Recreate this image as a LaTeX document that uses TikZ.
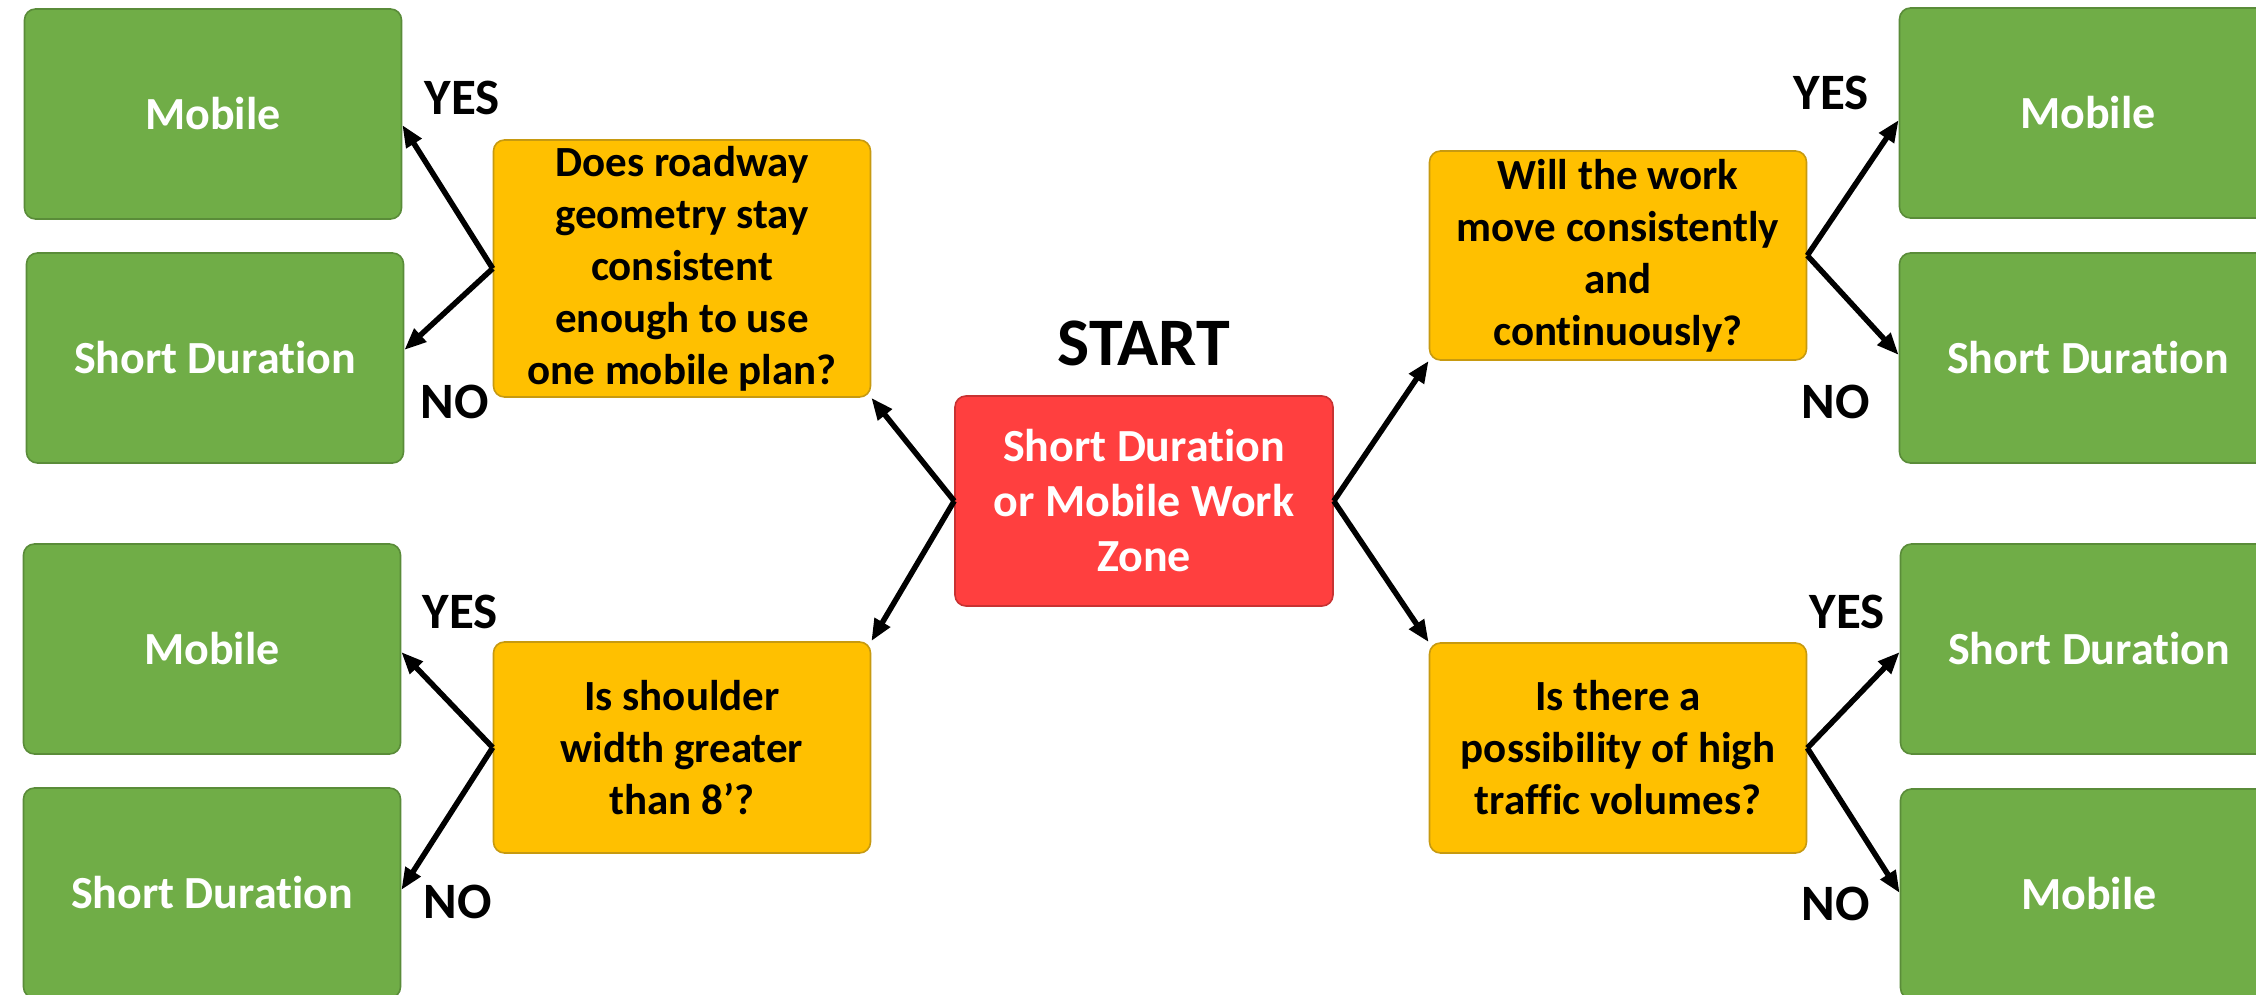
\documentclass[tikz,border=0pt]{standalone}
\usepackage{fontspec}
\setmainfont{Carlito}[RawFeature=-liga]
\usetikzlibrary{arrows.meta}
\definecolor{gfill}{HTML}{70AD47}
\definecolor{gline}{HTML}{5A8C39}
\definecolor{yfill}{HTML}{FFC000}
\definecolor{yline}{HTML}{C79A10}
\definecolor{rfill}{HTML}{FF3F3F}
\definecolor{rline}{HTML}{C83232}
\tikzset{
  box/.style={rectangle, rounded corners=11pt, line width=1.6pt, minimum width=377pt, minimum height=210pt, inner sep=0pt, align=center, font=\bfseries\fontsize{46}{55}\selectfont},
  result/.style={box, fill=gfill, draw=gline, text=white},
  question/.style={box, fill=yfill, draw=yline, text=black, font=\bfseries\fontsize{43}{52}\selectfont},
  startbox/.style={box, fill=rfill, draw=rline, text=white},
  answer/.style={anchor=base, inner sep=0pt, font=\bfseries\fontsize{51}{51}\selectfont},
  title/.style={anchor=base, inner sep=0pt, font=\bfseries\fontsize{68}{68}\selectfont},
  conn/.style={line width=5.5pt, -{Triangle[length=22pt,width=17pt]}}
}
\begin{document}
\begin{tikzpicture}[x=1pt,y=-1pt]
\useasboundingbox (0,0) rectangle (2256,995);
\clip (0,0) rectangle (2256,995);
\fill[white] (0,0) rectangle (2256,995);
% result boxes
\node[result] (L1) at (213,114) {Mobile};
\node[result] (L2) at (215,358) {Short Duration};
\node[result] (L3) at (212,649) {Mobile};
\node[result] (L4) at (212,893) {Short Duration};
\node[result] (R1) at (2088,113) {Mobile};
\node[result] (R2) at (2088,358) {Short Duration};
\node[result] (R3) at (2089,649) {Short Duration};
\node[result] (R4) at (2089,894) {Mobile};
% questions
\node[question, minimum height=257pt] (Q1) at (682,268.5) {Does roadway\\geometry stay\\consistent\\enough to use\\one mobile plan?};
\node[question, minimum height=209pt] (Q2) at (1618,255.5) {Will the work\\move consistently\\and\\continuously?};
\node[question, minimum height=211pt] (Q3) at (682,747.5) {Is shoulder\\width greater\\than 8’?};
\node[question, minimum height=210pt] (Q4) at (1618,748) {Is there a\\possibility of high\\traffic volumes?};
% start
\node[startbox, minimum width=378pt] (S) at (1144,501) {Short Duration\\or Mobile Work\\Zone};
\node[title] (T) at (1144,365) {START};
% answer labels
\node[answer] (a1) at (462,115) {YES};
\node[answer] (a2) at (455,418) {NO};
\node[answer] (a3) at (460,628) {YES};
\node[answer] (a4) at (458,918) {NO};
\node[answer] (a5) at (1831,110) {YES};
\node[answer] (a6) at (1836,418) {NO};
\node[answer] (a7) at (1847,628) {YES};
\node[answer] (a8) at (1836,920) {NO};
% connectors
\draw[conn] (S.west) -- (Q1.south east);
\draw[conn] (S.west) -- (Q3.north east);
\draw[conn] (S.east) -- (Q2.south west);
\draw[conn] (S.east) -- (Q4.north west);
\draw[conn] (Q1.west) -- ([yshift=-11pt]L1.east);
\draw[conn] (Q1.west) -- ([yshift=8pt]L2.east);
\draw[conn] (Q3.west) -- ([yshift=-3pt]L3.east);
\draw[conn] (Q3.west) -- ([yshift=3pt]L4.east);
\draw[conn] (Q2.east) -- ([yshift=-7pt]R1.west);
\draw[conn] (Q2.east) -- ([yshift=3pt]R2.west);
\draw[conn] (Q4.east) -- ([yshift=-3pt]R3.west);
\draw[conn] (Q4.east) -- ([yshift=1pt]R4.west);
\end{tikzpicture}
\end{document}
